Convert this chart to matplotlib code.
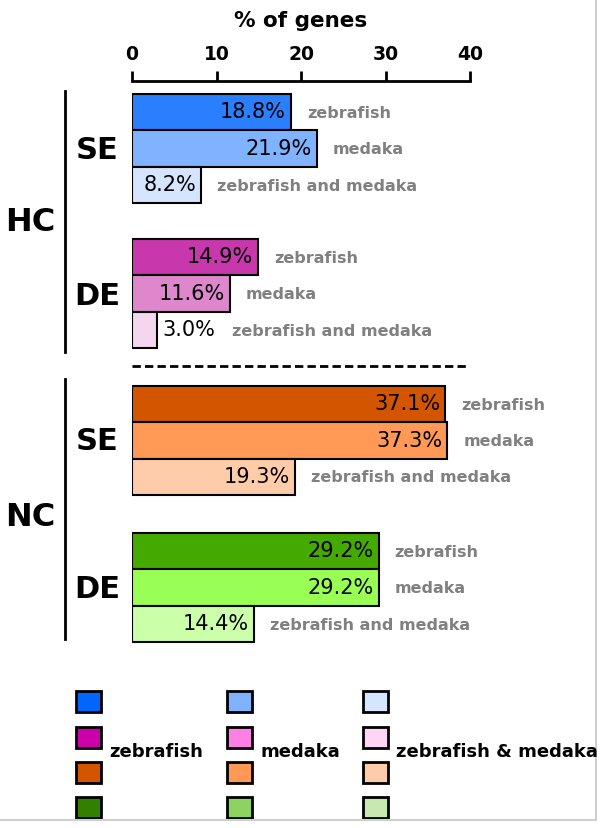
import matplotlib
matplotlib.use("Agg")
from matplotlib import pyplot as plt
from matplotlib.patches import Rectangle
import matplotlib.transforms as mtransforms

# data
groups = ["HC", "NC"]
subgroups = ["SE", "DE"]
species = ["zebrafish", "medaka", "zebrafish and medaka"]

hc_se = [18.8, 21.9, 8.2]
hc_de = [14.9, 11.6, 3.0]
nc_se = [37.1, 37.3, 19.3]
nc_de = [29.2, 29.2, 14.4]

bar_colors = [
    ["#2a7fff", "#80b3ff", "#d5e5ff"],
    ["#c837ab", "#de87cd", "#f4d7ee"],
    ["#d45500", "#ff9955", "#ffccaa"],
    ["#44aa00", "#99ff55", "#ccffaa"],
]

legend_labels = ["zebrafish", "medaka", "zebrafish & medaka"]
legend_colors = [
    ["#0066ff", "#cc00aa", "#d45500", "#338000"],
    ["#80b3ff", "#ff80e5", "#ff9955", "#8dd35f"],
    ["#d5e5ff", "#ffd5f6", "#ffccaa", "#c6e9af"],
]

W, H = 604, 829
fig = plt.figure(figsize=(W / 100, H / 100), dpi=100)

# overlay axes in pixel coords for decorations
ov = fig.add_axes([0, 0, 1, 1])
ov.set_xlim(0, W)
ov.set_ylim(H, 0)
ov.axis("off")

x0, x40 = 132, 470
ax = fig.add_axes([x0 / W, 0, (x40 - x0) / W, 1])
ax.set_xlim(0, 40)
ax.set_ylim(H, 0)
ax.patch.set_visible(False)
for s in ["left", "right", "bottom"]:
    ax.spines[s].set_visible(False)
ax.spines["top"].set_position(("data", 82))
ax.spines["top"].set_linewidth(2)
ax.xaxis.tick_top()
ax.set_xticks([0, 10, 20, 30, 40])
ax.tick_params(axis="x", direction="out", length=7, width=2, pad=6,
               labelsize=13.5)
for lab in ax.get_xticklabels():
    lab.set_fontweight("bold")
ax.set_yticks([])
ax.xaxis.set_label_position("top")
ax.set_xlabel("% of genes", fontsize=15.5, fontweight="bold", labelpad=13)

blocks = [hc_se, hc_de, nc_se, nc_de]
block_top = [95, 240, 387, 534]
bh = 36.4

for b, vals in enumerate(blocks):
    for i, v in enumerate(vals):
        yc = block_top[b] + bh * i + bh / 2
        ax.barh(yc, v, height=bh, color=bar_colors[b][i], edgecolor="black",
                linewidth=1.5)
        txt = "%.1f%%" % v
        if v > 6:
            tr = mtransforms.offset_copy(ax.transData, fig=fig, x=-5, y=1, units="dots")
            ax.text(v, yc, txt, transform=tr, ha="right", va="center",
                    fontsize=15)
            tr2 = mtransforms.offset_copy(ax.transData, fig=fig, x=16, y=0, units="dots")
            ax.text(v, yc, species[i], transform=tr2, ha="left", va="center",
                    fontsize=11.5, fontweight="bold", color="#808080")
        else:
            tr = mtransforms.offset_copy(ax.transData, fig=fig, x=5, y=1, units="dots")
            ax.text(v, yc, txt, transform=tr, ha="left", va="center",
                    fontsize=15)
            tr2 = mtransforms.offset_copy(ax.transData, fig=fig, x=75, y=0, units="dots")
            ax.text(v, yc, species[i], transform=tr2, ha="left", va="center",
                    fontsize=11.5, fontweight="bold", color="#808080")

# dashed separator
ax.plot([0, 39.7], [367, 367], color="black", lw=2, ls=(0, (3, 1.5)),
        clip_on=False)

# brackets and group labels
ov.plot([65, 65], [92, 353], color="black", lw=2)
ov.plot([65, 65], [380, 640], color="black", lw=2)
ov.text(30, 222, groups[0], fontsize=23, fontweight="bold", ha="center", va="center")
ov.text(30, 518, groups[1], fontsize=23, fontweight="bold", ha="center", va="center")
for yc, lab in zip([150, 296, 442, 590], subgroups * 2):
    ov.text(97, yc, lab, fontsize=22, fontweight="bold", ha="center", va="center")

# legend
col_x = [76, 227, 363]
row_y = [692, 727.5, 763, 798]
for c in range(3):
    for r in range(4):
        ov.add_patch(Rectangle((col_x[c], row_y[r]), 25, 21,
                               facecolor=legend_colors[c][r],
                               edgecolor="black", linewidth=2))
    ov.text(col_x[c] + 33, 752, legend_labels[c], fontsize=13,
            fontweight="bold", ha="left", va="center")

# light frame lines
ov.plot([596, 596], [0, 821], color="#d0d0d0", lw=1.5)
ov.plot([0, 596], [821, 821], color="#d0d0d0", lw=1.5)

fig.savefig("out.png", dpi=100)
